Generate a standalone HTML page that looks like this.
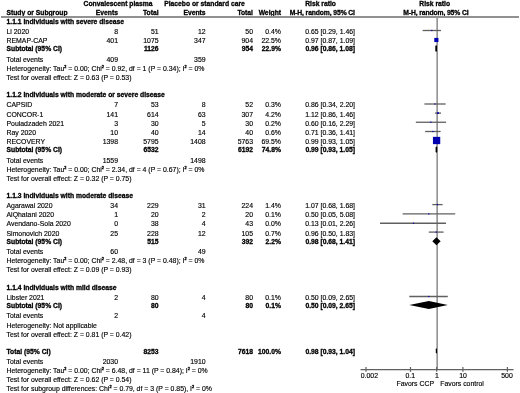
<!DOCTYPE html>
<html><head><meta charset="utf-8"><style>
html,body{margin:0;padding:0;background:#fff;}
body{width:520px;height:393px;overflow:hidden;position:relative;font-family:"Liberation Sans",sans-serif;color:#000;}
.t{position:absolute;white-space:nowrap;font-size:6.90px;line-height:10px;word-spacing:0.00px;}
.hl{position:absolute;}
.sup{font-size:3.8px;position:relative;top:-2.7px;-webkit-text-stroke:0.4px #000;}
.plot{position:absolute;left:0;top:0;}
#tx{position:absolute;left:0;top:0;width:520px;height:393px;will-change:transform;}
.t{-webkit-text-stroke:0.15px #000;}
.t.b{-webkit-text-stroke:0.3px #000;}
</style></head><body>
<svg class="plot" width="520" height="393" viewBox="0 0 520 393"><rect x="436" y="18" width="1" height="351" fill="#b9b9b9"/><rect x="437" y="18" width="1" height="351" fill="#959595"/><line x1="422.61" y1="30.50" x2="441.01" y2="30.50" stroke="#606060" stroke-width="1.3"/><rect x="431.20" y="29.90" width="1.20" height="1.20" fill="#0000b0"/><line x1="435.12" y1="40.00" x2="437.68" y2="40.00" stroke="#606060" stroke-width="1.3"/><rect x="434.28" y="37.92" width="4.15" height="4.15" fill="#0000b0"/><polygon points="436.15,44.90 437.00,46.10 437.00,50.90 436.15,52.10 435.30,50.90 435.30,46.10" fill="#000"/><line x1="424.42" y1="104.00" x2="445.67" y2="104.00" stroke="#606060" stroke-width="1.3"/><rect x="434.38" y="103.40" width="1.20" height="1.20" fill="#0000b0"/><line x1="434.98" y1="113.10" x2="441.01" y2="113.10" stroke="#606060" stroke-width="1.3"/><rect x="437.09" y="112.20" width="1.79" height="1.79" fill="#0000b0"/><line x1="415.85" y1="122.25" x2="446.13" y2="122.25" stroke="#606060" stroke-width="1.3"/><rect x="430.29" y="121.65" width="1.20" height="1.20" fill="#0000b0"/><line x1="425.08" y1="131.50" x2="440.61" y2="131.50" stroke="#606060" stroke-width="1.3"/><rect x="432.20" y="130.90" width="1.20" height="1.20" fill="#0000b0"/><line x1="435.87" y1="140.50" x2="437.26" y2="140.50" stroke="#606060" stroke-width="1.3"/><rect x="432.94" y="136.85" width="7.30" height="7.30" fill="#0000b0"/><polygon points="436.40,146.30 437.20,147.50 437.20,151.70 436.40,152.90 435.60,151.70 435.60,147.50" fill="#000"/><line x1="432.31" y1="204.60" x2="442.60" y2="204.60" stroke="#606060" stroke-width="1.3"/><rect x="436.87" y="204.00" width="1.20" height="1.20" fill="#0000b0"/><line x1="402.61" y1="213.90" x2="455.19" y2="213.90" stroke="#606060" stroke-width="1.3"/><rect x="428.21" y="213.30" width="1.20" height="1.20" fill="#0000b0"/><line x1="380.00" y1="223.25" x2="445.98" y2="223.25" stroke="#606060" stroke-width="1.3"/><rect x="412.89" y="222.65" width="1.20" height="1.20" fill="#0000b0"/><line x1="428.81" y1="232.10" x2="443.58" y2="232.10" stroke="#606060" stroke-width="1.3"/><rect x="435.64" y="231.50" width="1.20" height="1.20" fill="#0000b0"/><polygon points="432.31,241.20 436.47,237.20 440.61,241.20 436.47,245.20" fill="#000"/><line x1="409.30" y1="296.50" x2="447.79" y2="296.50" stroke="#606060" stroke-width="1.3"/><rect x="428.21" y="295.90" width="1.20" height="1.20" fill="#0000b0"/><polygon points="409.30,305.00 428.81,301.00 447.79,305.00 428.81,309.00" fill="#000"/><polygon points="436.40,348.00 437.00,349.20 437.00,352.60 436.40,353.80 435.80,352.60 435.80,349.20" fill="#000"/><line x1="360.5" y1="369.6" x2="513.5" y2="369.6" stroke="#606060" stroke-width="1.3"/><line x1="365.99" y1="367" x2="365.99" y2="371.8" stroke="#606060" stroke-width="1.2"/><line x1="410.50" y1="367" x2="410.50" y2="371.8" stroke="#606060" stroke-width="1.2"/><line x1="436.70" y1="367" x2="436.70" y2="371.8" stroke="#606060" stroke-width="1.2"/><line x1="462.90" y1="367" x2="462.90" y2="371.8" stroke="#606060" stroke-width="1.2"/><line x1="507.41" y1="367" x2="507.41" y2="371.8" stroke="#606060" stroke-width="1.2"/></svg>
<div id="tx"><div class="t b" style="top:-1.00px;font-weight:bold;font-size:6.75px;left:83.60px;">Convalescent plasma</div>
<div class="t b" style="top:-1.00px;font-weight:bold;font-size:6.75px;left:164.20px;">Placebo or standard care</div>
<div class="t b" style="top:-1.00px;font-weight:bold;font-size:6.75px;left:305.20px;">Risk ratio</div>
<div class="t b" style="top:-1.00px;font-weight:bold;font-size:6.75px;left:419.30px;">Risk ratio</div>
<div class="t b" style="top:8.00px;font-weight:bold;font-size:6.75px;left:6.50px;">Study or Subgroup</div>
<div class="t b" style="top:8.00px;font-weight:bold;font-size:6.75px;right:402.00px;text-align:right;">Events</div>
<div class="t b" style="top:8.00px;font-weight:bold;font-size:6.75px;right:361.40px;text-align:right;">Total</div>
<div class="t b" style="top:8.00px;font-weight:bold;font-size:6.75px;right:314.40px;text-align:right;">Events</div>
<div class="t b" style="top:8.00px;font-weight:bold;font-size:6.75px;right:267.00px;text-align:right;">Total</div>
<div class="t b" style="top:8.00px;font-weight:bold;font-size:6.75px;right:239.00px;text-align:right;">Weight</div>
<div class="t b" style="top:8.00px;font-weight:bold;font-size:6.75px;left:222.25px;width:200px;text-align:center;letter-spacing:-0.1px;">M-H, random, 95% CI</div>
<div class="t b" style="top:8.00px;font-weight:bold;font-size:6.75px;left:335.90px;width:200px;text-align:center;letter-spacing:-0.1px;">M-H, random, 95% CI</div>
<div class="hl" style="left:1px;top:16px;width:518px;height:2px;background:#919191"></div>
<div class="t b" style="top:17.00px;font-weight:bold;font-size:6.75px;left:6.50px;">1.1.1 Individuals with severe disease</div>
<div class="t" style="top:27.00px;left:6.50px;">Li 2020</div>
<div class="t" style="top:27.00px;right:402.00px;text-align:right;">8</div>
<div class="t" style="top:27.00px;right:361.40px;text-align:right;">51</div>
<div class="t" style="top:27.00px;right:314.40px;text-align:right;">12</div>
<div class="t" style="top:27.00px;right:267.00px;text-align:right;">50</div>
<div class="t" style="top:27.00px;right:239.00px;text-align:right;">0.4%</div>
<div class="t" style="top:27.00px;right:165.00px;text-align:right;">0.65 [0.29, 1.46]</div>
<div class="t" style="top:36.00px;left:6.50px;">REMAP-CAP</div>
<div class="t" style="top:36.00px;right:402.00px;text-align:right;">401</div>
<div class="t" style="top:36.00px;right:361.40px;text-align:right;">1075</div>
<div class="t" style="top:36.00px;right:314.40px;text-align:right;">347</div>
<div class="t" style="top:36.00px;right:267.00px;text-align:right;">904</div>
<div class="t" style="top:36.00px;right:239.00px;text-align:right;">22.5%</div>
<div class="t" style="top:36.00px;right:165.00px;text-align:right;">0.97 [0.87, 1.09]</div>
<div class="t b" style="top:44.00px;font-weight:bold;font-size:6.75px;left:6.50px;">Subtotal (95% CI)</div>
<div class="t b" style="top:44.00px;font-weight:bold;font-size:6.75px;right:361.40px;text-align:right;">1126</div>
<div class="t b" style="top:44.00px;font-weight:bold;font-size:6.75px;right:267.00px;text-align:right;">954</div>
<div class="t b" style="top:44.00px;font-weight:bold;font-size:6.75px;right:239.00px;text-align:right;">22.9%</div>
<div class="t b" style="top:44.00px;font-weight:bold;font-size:6.75px;right:165.00px;text-align:right;">0.96 [0.86, 1.08]</div>
<div class="t" style="top:55.00px;left:6.50px;">Total events</div>
<div class="t" style="top:55.00px;right:402.00px;text-align:right;">409</div>
<div class="t" style="top:55.00px;right:314.40px;text-align:right;">359</div>
<div class="t" style="top:64.00px;left:6.50px;">Heterogeneity: Tau<span class="sup">2</span> = 0.00; Chi<span class="sup">2</span> = 0.92, df = 1 (P = 0.34); I<span class="sup">2</span> = 0%</div>
<div class="t" style="top:73.00px;left:6.50px;">Test for overall effect: Z = 0.63 (P = 0.53)</div>
<div class="t b" style="top:90.00px;font-weight:bold;font-size:6.75px;left:6.50px;">1.1.2 Individuals with moderate or severe disease</div>
<div class="t" style="top:100.00px;left:6.50px;">CAPSID</div>
<div class="t" style="top:100.00px;right:402.00px;text-align:right;">7</div>
<div class="t" style="top:100.00px;right:361.40px;text-align:right;">53</div>
<div class="t" style="top:100.00px;right:314.40px;text-align:right;">8</div>
<div class="t" style="top:100.00px;right:267.00px;text-align:right;">52</div>
<div class="t" style="top:100.00px;right:239.00px;text-align:right;">0.3%</div>
<div class="t" style="top:100.00px;right:165.00px;text-align:right;">0.86 [0.34, 2.20]</div>
<div class="t" style="top:110.00px;left:6.50px;">CONCOR-1</div>
<div class="t" style="top:110.00px;right:402.00px;text-align:right;">141</div>
<div class="t" style="top:110.00px;right:361.40px;text-align:right;">614</div>
<div class="t" style="top:110.00px;right:314.40px;text-align:right;">63</div>
<div class="t" style="top:110.00px;right:267.00px;text-align:right;">307</div>
<div class="t" style="top:110.00px;right:239.00px;text-align:right;">4.2%</div>
<div class="t" style="top:110.00px;right:165.00px;text-align:right;">1.12 [0.86, 1.46]</div>
<div class="t" style="top:119.00px;left:6.50px;">Pouladzadeh 2021</div>
<div class="t" style="top:119.00px;right:402.00px;text-align:right;">3</div>
<div class="t" style="top:119.00px;right:361.40px;text-align:right;">30</div>
<div class="t" style="top:119.00px;right:314.40px;text-align:right;">5</div>
<div class="t" style="top:119.00px;right:267.00px;text-align:right;">30</div>
<div class="t" style="top:119.00px;right:239.00px;text-align:right;">0.2%</div>
<div class="t" style="top:119.00px;right:165.00px;text-align:right;">0.60 [0.16, 2.29]</div>
<div class="t" style="top:128.00px;left:6.50px;">Ray 2020</div>
<div class="t" style="top:128.00px;right:402.00px;text-align:right;">10</div>
<div class="t" style="top:128.00px;right:361.40px;text-align:right;">40</div>
<div class="t" style="top:128.00px;right:314.40px;text-align:right;">14</div>
<div class="t" style="top:128.00px;right:267.00px;text-align:right;">40</div>
<div class="t" style="top:128.00px;right:239.00px;text-align:right;">0.6%</div>
<div class="t" style="top:128.00px;right:165.00px;text-align:right;">0.71 [0.36, 1.41]</div>
<div class="t" style="top:137.00px;left:6.50px;">RECOVERY</div>
<div class="t" style="top:137.00px;right:402.00px;text-align:right;">1398</div>
<div class="t" style="top:137.00px;right:361.40px;text-align:right;">5795</div>
<div class="t" style="top:137.00px;right:314.40px;text-align:right;">1408</div>
<div class="t" style="top:137.00px;right:267.00px;text-align:right;">5763</div>
<div class="t" style="top:137.00px;right:239.00px;text-align:right;">69.5%</div>
<div class="t" style="top:137.00px;right:165.00px;text-align:right;">0.99 [0.93, 1.05]</div>
<div class="t b" style="top:145.00px;font-weight:bold;font-size:6.75px;left:6.50px;">Subtotal (95% CI)</div>
<div class="t b" style="top:145.00px;font-weight:bold;font-size:6.75px;right:361.40px;text-align:right;">6532</div>
<div class="t b" style="top:145.00px;font-weight:bold;font-size:6.75px;right:267.00px;text-align:right;">6192</div>
<div class="t b" style="top:145.00px;font-weight:bold;font-size:6.75px;right:239.00px;text-align:right;">74.8%</div>
<div class="t b" style="top:145.00px;font-weight:bold;font-size:6.75px;right:165.00px;text-align:right;">0.99 [0.93, 1.05]</div>
<div class="t" style="top:156.00px;left:6.50px;">Total events</div>
<div class="t" style="top:156.00px;right:402.00px;text-align:right;">1559</div>
<div class="t" style="top:156.00px;right:314.40px;text-align:right;">1498</div>
<div class="t" style="top:165.00px;left:6.50px;">Heterogeneity: Tau<span class="sup">2</span> = 0.00; Chi<span class="sup">2</span> = 2.34, df = 4 (P = 0.67); I<span class="sup">2</span> = 0%</div>
<div class="t" style="top:174.00px;left:6.50px;">Test for overall effect: Z = 0.32 (P = 0.75)</div>
<div class="t b" style="top:191.00px;font-weight:bold;font-size:6.75px;left:6.50px;">1.1.3 Individuals with moderate disease</div>
<div class="t" style="top:201.00px;left:6.50px;">Agarawal 2020</div>
<div class="t" style="top:201.00px;right:402.00px;text-align:right;">34</div>
<div class="t" style="top:201.00px;right:361.40px;text-align:right;">229</div>
<div class="t" style="top:201.00px;right:314.40px;text-align:right;">31</div>
<div class="t" style="top:201.00px;right:267.00px;text-align:right;">224</div>
<div class="t" style="top:201.00px;right:239.00px;text-align:right;">1.4%</div>
<div class="t" style="top:201.00px;right:165.00px;text-align:right;">1.07 [0.68, 1.68]</div>
<div class="t" style="top:210.00px;left:6.50px;">AlQhatani 2020</div>
<div class="t" style="top:210.00px;right:402.00px;text-align:right;">1</div>
<div class="t" style="top:210.00px;right:361.40px;text-align:right;">20</div>
<div class="t" style="top:210.00px;right:314.40px;text-align:right;">2</div>
<div class="t" style="top:210.00px;right:267.00px;text-align:right;">20</div>
<div class="t" style="top:210.00px;right:239.00px;text-align:right;">0.1%</div>
<div class="t" style="top:210.00px;right:165.00px;text-align:right;">0.50 [0.05, 5.08]</div>
<div class="t" style="top:219.00px;left:6.50px;">Avendano-Sola 2020</div>
<div class="t" style="top:219.00px;right:402.00px;text-align:right;">0</div>
<div class="t" style="top:219.00px;right:361.40px;text-align:right;">38</div>
<div class="t" style="top:219.00px;right:314.40px;text-align:right;">4</div>
<div class="t" style="top:219.00px;right:267.00px;text-align:right;">43</div>
<div class="t" style="top:219.00px;right:239.00px;text-align:right;">0.0%</div>
<div class="t" style="top:219.00px;right:165.00px;text-align:right;">0.13 [0.01, 2.26]</div>
<div class="t" style="top:229.00px;left:6.50px;">Simonovich 2020</div>
<div class="t" style="top:229.00px;right:402.00px;text-align:right;">25</div>
<div class="t" style="top:229.00px;right:361.40px;text-align:right;">228</div>
<div class="t" style="top:229.00px;right:314.40px;text-align:right;">12</div>
<div class="t" style="top:229.00px;right:267.00px;text-align:right;">105</div>
<div class="t" style="top:229.00px;right:239.00px;text-align:right;">0.7%</div>
<div class="t" style="top:229.00px;right:165.00px;text-align:right;">0.96 [0.50, 1.83]</div>
<div class="t b" style="top:237.00px;font-weight:bold;font-size:6.75px;left:6.50px;">Subtotal (95% CI)</div>
<div class="t b" style="top:237.00px;font-weight:bold;font-size:6.75px;right:361.40px;text-align:right;">515</div>
<div class="t b" style="top:237.00px;font-weight:bold;font-size:6.75px;right:267.00px;text-align:right;">392</div>
<div class="t b" style="top:237.00px;font-weight:bold;font-size:6.75px;right:239.00px;text-align:right;">2.2%</div>
<div class="t b" style="top:237.00px;font-weight:bold;font-size:6.75px;right:165.00px;text-align:right;">0.98 [0.68, 1.41]</div>
<div class="t" style="top:247.00px;left:6.50px;">Total events</div>
<div class="t" style="top:247.00px;right:402.00px;text-align:right;">60</div>
<div class="t" style="top:247.00px;right:314.40px;text-align:right;">49</div>
<div class="t" style="top:256.00px;left:6.50px;">Heterogeneity: Tau<span class="sup">2</span> = 0.00; Chi<span class="sup">2</span> = 2.48, df = 3 (P = 0.48); I<span class="sup">2</span> = 0%</div>
<div class="t" style="top:265.00px;left:6.50px;">Test for overall effect: Z = 0.09 (P = 0.93)</div>
<div class="t b" style="top:283.00px;font-weight:bold;font-size:6.75px;left:6.50px;">1.1.4 Individuals with mild disease</div>
<div class="t" style="top:293.00px;left:6.50px;">Libster 2021</div>
<div class="t" style="top:293.00px;right:402.00px;text-align:right;">2</div>
<div class="t" style="top:293.00px;right:361.40px;text-align:right;">80</div>
<div class="t" style="top:293.00px;right:314.40px;text-align:right;">4</div>
<div class="t" style="top:293.00px;right:267.00px;text-align:right;">80</div>
<div class="t" style="top:293.00px;right:239.00px;text-align:right;">0.1%</div>
<div class="t" style="top:293.00px;right:165.00px;text-align:right;">0.50 [0.09, 2.65]</div>
<div class="t b" style="top:301.00px;font-weight:bold;font-size:6.75px;left:6.50px;">Subtotal (95% CI)</div>
<div class="t b" style="top:301.00px;font-weight:bold;font-size:6.75px;right:361.40px;text-align:right;">80</div>
<div class="t b" style="top:301.00px;font-weight:bold;font-size:6.75px;right:267.00px;text-align:right;">80</div>
<div class="t b" style="top:301.00px;font-weight:bold;font-size:6.75px;right:239.00px;text-align:right;">0.1%</div>
<div class="t b" style="top:301.00px;font-weight:bold;font-size:6.75px;right:165.00px;text-align:right;">0.50 [0.09, 2.65]</div>
<div class="t" style="top:311.00px;left:6.50px;">Total events</div>
<div class="t" style="top:311.00px;right:402.00px;text-align:right;">2</div>
<div class="t" style="top:311.00px;right:314.40px;text-align:right;">4</div>
<div class="t" style="top:321.00px;left:6.50px;">Heterogeneity: Not applicable</div>
<div class="t" style="top:330.00px;left:6.50px;">Test for overall effect: Z = 0.81 (P = 0.42)</div>
<div class="t b" style="top:347.00px;font-weight:bold;font-size:6.75px;left:6.50px;">Total (95% CI)</div>
<div class="t b" style="top:347.00px;font-weight:bold;font-size:6.75px;right:361.40px;text-align:right;">8253</div>
<div class="t b" style="top:347.00px;font-weight:bold;font-size:6.75px;right:267.00px;text-align:right;">7618</div>
<div class="t b" style="top:347.00px;font-weight:bold;font-size:6.75px;right:239.00px;text-align:right;">100.0%</div>
<div class="t b" style="top:347.00px;font-weight:bold;font-size:6.75px;right:165.00px;text-align:right;">0.98 [0.93, 1.04]</div>
<div class="t" style="top:357.00px;left:6.50px;">Total events</div>
<div class="t" style="top:357.00px;right:402.00px;text-align:right;">2030</div>
<div class="t" style="top:357.00px;right:314.40px;text-align:right;">1910</div>
<div class="t" style="top:366.00px;left:6.50px;">Heterogeneity: Tau<span class="sup">2</span> = 0.00; Chi<span class="sup">2</span> = 6.48, df = 11 (P = 0.84); I<span class="sup">2</span> = 0%</div>
<div class="t" style="top:375.00px;left:6.50px;">Test for overall effect: Z = 0.62 (P = 0.54)</div>
<div class="t" style="top:384.00px;left:6.50px;">Test for subgroup differences: Chi<span class="sup">2</span> = 0.79, df = 3 (P = 0.85), I<span class="sup">2</span> = 0%</div>
<div class="t" style="top:371.00px;left:269.40px;width:200px;text-align:center;">0.002</div>
<div class="t" style="top:371.00px;left:310.20px;width:200px;text-align:center;">0.1</div>
<div class="t" style="top:371.00px;left:336.80px;width:200px;text-align:center;">1</div>
<div class="t" style="top:371.00px;left:363.10px;width:200px;text-align:center;">10</div>
<div class="t" style="top:371.00px;left:407.00px;width:200px;text-align:center;">500</div>
<div class="t" style="top:379.00px;right:86.00px;text-align:right;">Favors CCP</div>
<div class="t" style="top:379.00px;left:440.20px;">Favors control</div></div>
</body></html>
